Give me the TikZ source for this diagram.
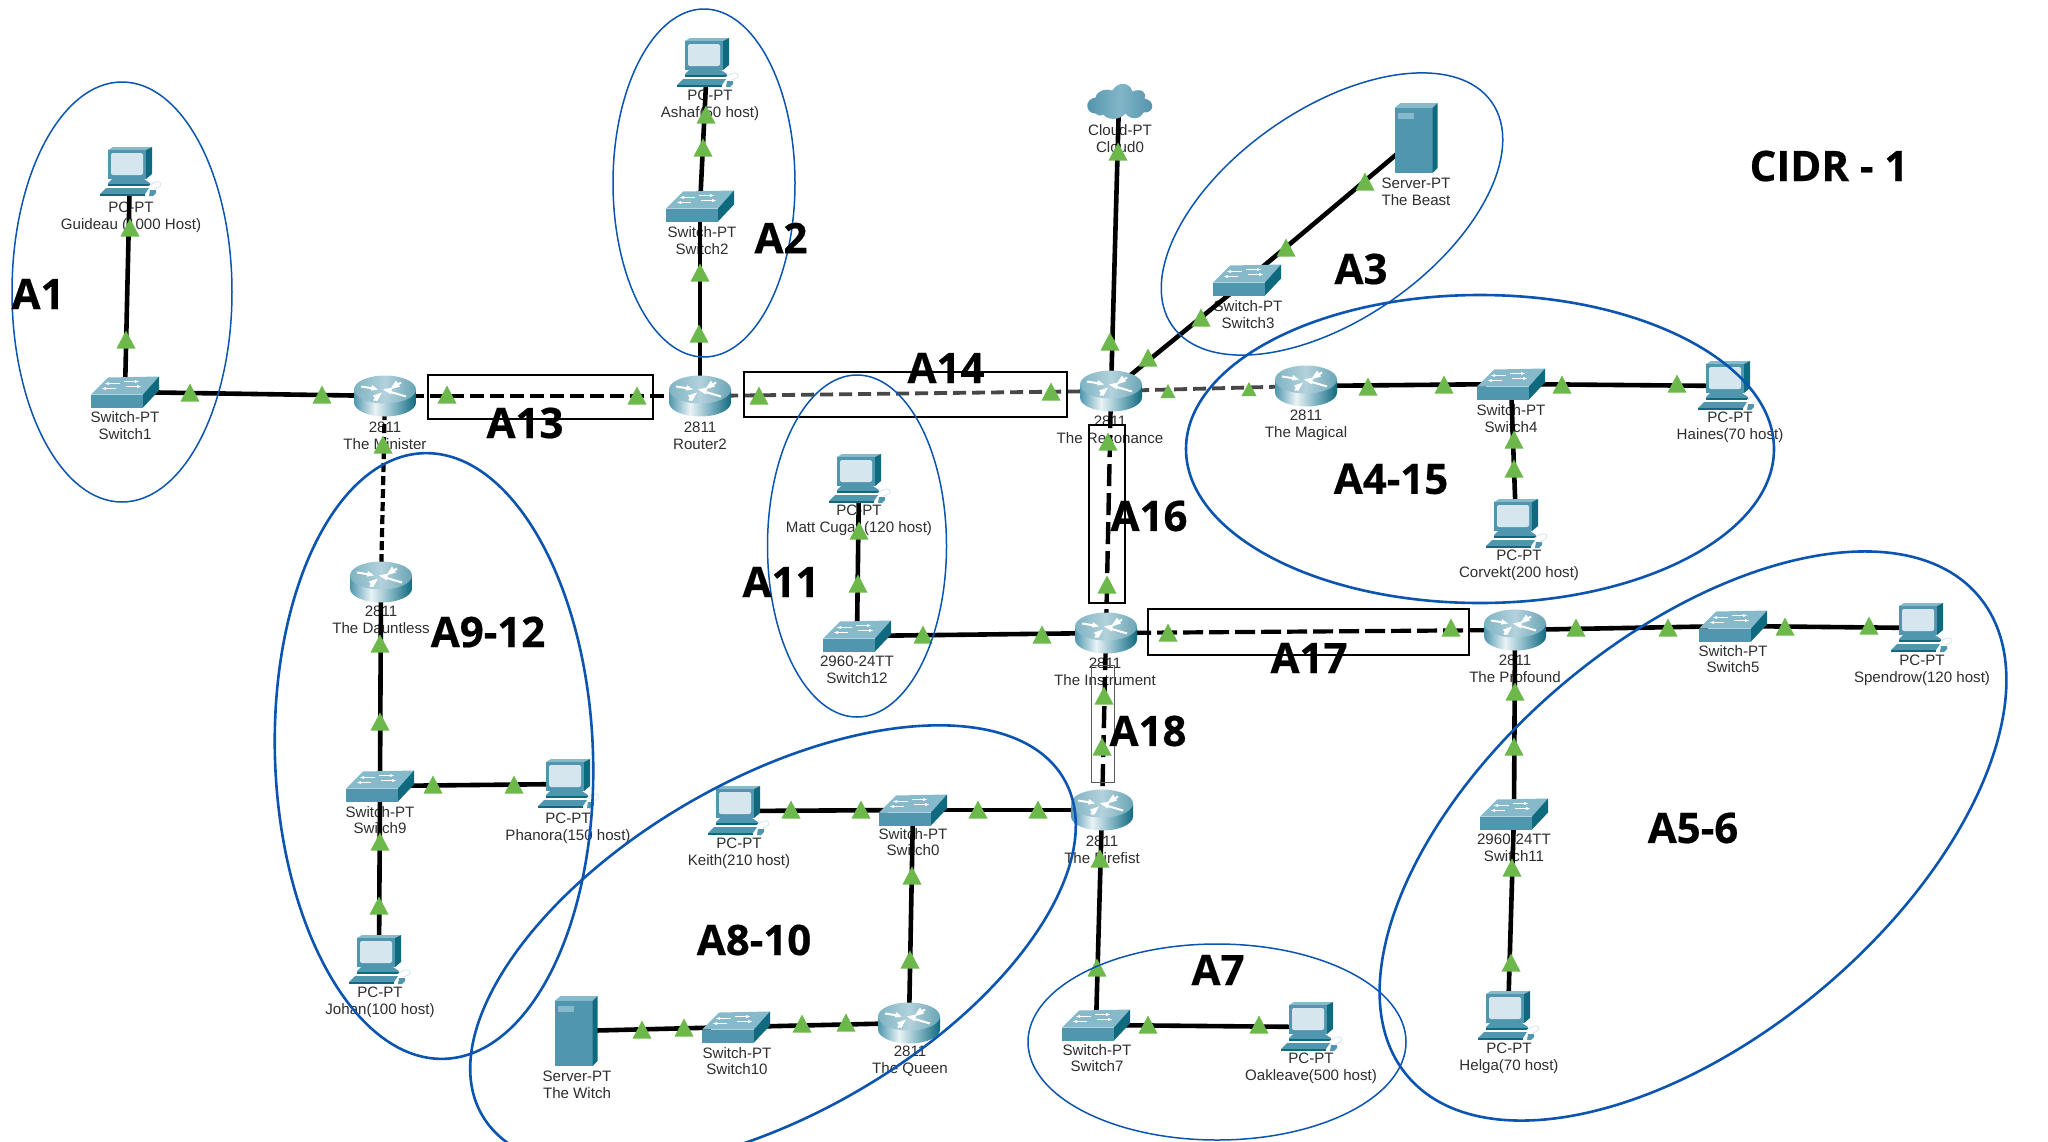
\documentclass[tikz,border=0pt]{standalone}
\usepackage{fontspec}
\setmainfont{Liberation Sans}
\newfontfamily\bigfont[BoldFeatures={FakeBold=0.5}]{Open Sans}
\definecolor{tTop}{HTML}{86BACB}
\definecolor{tFront}{HTML}{5196AF}
\definecolor{tSide}{HTML}{0F6A80}
\definecolor{tLight}{HTML}{D6E6EE}
\definecolor{triGreen}{HTML}{6DB84B}
\definecolor{ringBlue}{HTML}{0B55B0}
\definecolor{rA}{HTML}{4E97AE}
\definecolor{rB}{HTML}{EAF3F5}
\definecolor{rC}{HTML}{7FB3C2}
\definecolor{rD}{HTML}{11697F}
\definecolor{cA}{HTML}{4F90AA}
\definecolor{cB}{HTML}{82B6C8}
\pgfdeclarehorizontalshading{routerbody}{100bp}{color(0bp)=(rA);color(25bp)=(rA);color(42bp)=(rB);color(58bp)=(rC);color(75bp)=(rD);color(100bp)=(rD)}
\pgfdeclarehorizontalshading{routertop}{100bp}{color(0bp)=(rC);color(25bp)=(rC);color(50bp)=(tLight!60!rC);color(75bp)=(rC!80!rD);color(100bp)=(rC)}
\pgfdeclarehorizontalshading{cloudfill}{100bp}{color(0bp)=(cA);color(25bp)=(cA);color(50bp)=(cB);color(75bp)=(cA);color(100bp)=(cA)}
\tikzset{
  lab/.style={align=center,inner sep=0pt,yshift=-0.5pt,text=black!82,font=\fontsize{15.1}{16.6}\selectfont},
  big/.style={inner sep=0pt,font=\bigfont\bfseries\fontsize{42}{42}\selectfont},
  wire/.style={line width=4.6pt,black},
  dashwire/.style={line width=4.2pt,black,dash pattern=on 14pt off 6pt},
  longdash/.style={line width=4.4pt,black,dash pattern=on 22pt off 7pt},
  greydash/.style={line width=3.8pt,black!72,dash pattern=on 13pt off 6pt},
  ring/.style={draw=ringBlue,line width=1.5pt},
  thickring/.style={draw=ringBlue,line width=2.6pt},
  area/.style={draw=black,line width=1.4pt},
  pcnode/.style={inner sep=0pt,minimum width=44pt,minimum height=40pt},
  swnode/.style={inner sep=0pt,minimum width=50pt,minimum height=22pt},
  rtnode/.style={inner sep=0pt,minimum width=50pt,minimum height=30pt},
  svnode/.style={inner sep=0pt,minimum width=36pt,minimum height=60pt},
  clnode/.style={inner sep=0pt,minimum width=36pt,minimum height=20pt},
  pc/.pic={
    \begin{scope}[shift={(-30,-25)}]
      \fill[tTop] (8,3)--(13,0)--(52,0)--(46,3)--cycle;
      \fill[tSide] (46,3)--(52,0)--(52,27)--(46,32)--cycle;
      \fill[tFront] (8,3)--(46,3)--(46,32)--(8,32)--cycle;
      \fill[tLight,rounded corners=2pt] (11,6) rectangle (43,28);
      \fill[tFront] (12,32)--(44,32)--(50,36)--(50,38)--(8,38)--(8,36)--cycle;
      \fill[tSide] (8,37) rectangle (50,39);
      \fill[tFront] (6,41)--(49,41)--(45,47)--(0,47)--cycle;
      \fill[tSide] (0,47) rectangle (45,49);
      \draw[tLight,line width=.8pt] (49,39) .. controls (56,33) and (61,34) .. (61,38) .. controls (60,41) and (56,41) .. (54,42);
      \fill[tFront] (50,43)--(56,43)--(56,46)--(53,49)--(49,49)--cycle;
    \end{scope}},
  sw/.pic={
    \begin{scope}[shift={(-34,-15.5)}]
      \fill[tTop] (0,18)--(17,1)--(68,0)--(52,18)--cycle;
      \fill[tFront] (0,18) rectangle (52,31);
      \fill[tSide] (52,18)--(68,0)--(68,14)--(52,31)--cycle;
      \draw[white,line width=1pt] (16,7)--(29,7) (33,5)--(46,5) (13,12)--(25,12) (35,10)--(48,10);
      \fill[white] (14,7)--(18,5.5)--(18,8.5)--cycle (48,5)--(44,3.5)--(44,6.5)--cycle (11,12)--(15,10.5)--(15,13.5)--cycle (50,10)--(46,8.5)--(46,11.5)--cycle;
    \end{scope}},
  rt/.pic={
    \begin{scope}[shift={(-31,-20.5)}]
      \path[shading=routerbody] (0,14)--(0,27) arc[start angle=180,end angle=0,x radius=31,y radius=14]--(62,14)--cycle;
      \path[shading=routertop] (31,14) circle[x radius=31,y radius=14];
      \draw[white,line width=2pt] (7,11)--(20,13) (47,7)--(39,12) (25,20)--(20,25) (35,16)--(52,21);
      \fill[white] (24,14)--(18,9.5)--(17,15)--cycle (36,14)--(42,5)--(46,11)--cycle (28,17)--(19,20)--(23,26)--cycle (29,14)--(38,12)--(37,19)--cycle;
    \end{scope}},
  srv/.pic={
    \begin{scope}[shift={(-21.5,-35)}]
      \fill[tTop] (0,5)--(6,0)--(43,0)--(38,5)--cycle;
      \fill[tFront] (0,5) rectangle (38,70);
      \fill[tSide] (38,5)--(43,0)--(43,65)--(38,70)--cycle;
      \fill[tTop] (3,10) rectangle (19,16);
    \end{scope}},
  cld/.pic={
    \begin{scope}[shift={(-33.5,-17.5)}]
      \path[shading=cloudfill] (10,30) .. controls (0,30) and (-2,16) .. (10,14) .. controls (12,6) and (22,5) .. (27,7) .. controls (32,-2) and (44,-2) .. (47,8) .. controls (56,4) and (62,10) .. (59,15) .. controls (70,17) and (69,30) .. (58,29) .. controls (54,37) and (44,36) .. (40,30) .. controls (34,37) and (22,37) .. (18,31) .. controls (15,33) and (12,32) .. (10,30) -- cycle;
    \end{scope}}
}
\begin{document}
\begin{tikzpicture}[x=1pt,y=-1pt]
\useasboundingbox (0,0) rectangle (2048,1141);
\clip (0,0) rectangle (2048,1141);
\fill[white] (0,0) rectangle (2048,1141);

% device anchors
\node[pcnode] (guideau) at (130,172) {};
\node[swnode] (sw1) at (125,392) {};
\node[rtnode] (minister) at (385,396) {};
\node[pcnode] (ashaf) at (707,63) {};
\node[swnode] (sw2) at (700,206) {};
\node[rtnode] (router2) at (700,396) {};
\node[clnode] (cloud) at (1119,101) {};
\node[svnode] (beast) at (1416,138) {};
\node[swnode] (sw3) at (1247,280) {};
\node[rtnode] (resonance) at (1111,391) {};
\node[rtnode] (magical) at (1306,386) {};
\node[swnode] (sw4) at (1511,384) {};
\node[pcnode] (haines) at (1728,386) {};
\node[pcnode] (corvekt) at (1516,524) {};
\node[pcnode] (matt) at (859,479) {};
\node[swnode] (sw12) at (857,636) {};
\node[rtnode] (instrument) at (1106,633) {};
\node[rtnode] (profound) at (1515,630) {};
\node[swnode] (sw5) at (1733,626) {};
\node[pcnode] (spendrow) at (1921,628) {};
\node[swnode] (sw11) at (1514,814) {};
\node[pcnode] (helga) at (1508,1016) {};
\node[rtnode] (firefist) at (1102,810) {};
\node[swnode] (sw0) at (913,810) {};
\node[pcnode] (keith) at (738,811) {};
\node[swnode] (sw7) at (1096,1025) {};
\node[pcnode] (oakleave) at (1311,1027) {};
\node[rtnode] (queen) at (909,1023) {};
\node[swnode] (sw10) at (736,1027) {};
\node[svnode] (witch) at (576,1031) {};
\node[rtnode] (dauntless) at (381,582) {};
\node[swnode] (sw9) at (380,786) {};
\node[pcnode] (phanora) at (568,784) {};
\node[pcnode] (johan) at (379,960) {};

% device labels
\node[lab] (lguideau) at (131,216.5) {PC-PT\\Guideau (1000 Host)};
\node[lab] (lsw1) at (125,425) {Switch-PT\\Switch1};
\node[lab] (lminister) at (385,435) {2811\\The Minister};
\node[lab] (lashaf) at (710,104.5) {PC-PT\\Ashaf(50 host)};
\node[lab] (lsw2) at (702,240) {Switch-PT\\Switch2};
\node[lab] (lrouter2) at (700,435) {2811\\Router2};
\node[lab] (lcloud) at (1120,138) {Cloud-PT\\Cloud0};
\node[lab] (lbeast) at (1416,191) {Server-PT\\The Beast};
\node[lab] (lsw3) at (1248,314) {Switch-PT\\Switch3};
\node[lab] (lresonance) at (1110,429) {2811\\The Resonance};
\node[lab] (lmagical) at (1306,425) {2811\\The Magical};
\node[lab] (lsw4) at (1511,418) {Switch-PT\\Switch4};
\node[lab] (lhaines) at (1730,426.5) {PC-PT\\Haines(70 host)};
\node[lab] (lcorvekt) at (1519,564.5) {PC-PT\\Corvekt(200 host)};
\node[lab] (lmatt) at (859,519.5) {PC-PT\\Matt Cugat (120 host)};
\node[lab] (lsw12) at (857,669.5) {2960-24TT\\Switch12};
\node[lab] (linstrument) at (1105,671.5) {2811\\The Instrument};
\node[lab] (lprofound) at (1515,668.5) {2811\\The Profound};
\node[lab] (lsw5) at (1733,658.5) {Switch-PT\\Switch5};
\node[lab] (lspendrow) at (1922,669.5) {PC-PT\\Spendrow(120 host)};
\node[lab] (lsw11) at (1514,847) {2960-24TT\\Switch11};
\node[lab] (lhelga) at (1509,1057.5) {PC-PT\\Helga(70 host)};
\node[lab] (lfirefist) at (1102,849) {2811\\The Firefist};
\node[lab] (lsw0) at (913,841.5) {Switch-PT\\Switch0};
\node[lab] (lkeith) at (739,852.5) {PC-PT\\Keith(210 host)};
\node[lab] (lsw7) at (1097,1057.5) {Switch-PT\\Switch7};
\node[lab] (loakleave) at (1311,1067.5) {PC-PT\\Oakleave(500 host)};
\node[lab] (lqueen) at (910,1060.5) {2811\\The Queen};
\node[lab] (lsw10) at (737,1060.5) {Switch-PT\\Switch10};
\node[lab] (lwitch) at (577,1084) {Server-PT\\The Witch};
\node[lab] (ldauntless) at (381,619.5) {2811\\The Dauntless};
\node[lab] (lsw9) at (380,819.5) {Switch-PT\\Switch9};
\node[lab] (lphanora) at (568,827.5) {PC-PT\\Phanora(150 host)};
\node[lab] (ljohan) at (380,1001.5) {PC-PT\\Johan(100 host)};

% connectors
\draw[wire] (guideau) -- (sw1);
\draw[wire] (sw1) -- (minister);
\draw[dashwire] (minister) -- (router2);
\draw[dashwire,dash pattern=on 9pt off 4pt] (minister) -- (dauntless);
\draw[wire] (dauntless) -- (sw9);
\draw[wire] (sw9) -- (phanora);
\draw[wire] (sw9) -- (johan);
\draw[wire] (ashaf) -- (sw2);
\draw[wire] (sw2) -- (router2);
\draw[greydash] (router2) -- (resonance);
\draw[wire] (cloud) -- (resonance);
\draw[wire] (resonance) -- (sw3);
\draw[wire] (sw3) -- (beast);
\draw[greydash] (resonance) -- (magical);
\draw[wire] (magical) -- (sw4);
\draw[wire] (sw4) -- (haines);
\draw[wire] (sw4) -- (corvekt);
\draw[longdash] (resonance) -- (instrument);
\draw[wire] (matt) -- (sw12);
\draw[wire] (sw12) -- (instrument);
\draw[dashwire,dash pattern=on 20pt off 6pt] (instrument) -- (profound);
\draw[wire] (profound) -- (sw5);
\draw[wire] (sw5) -- (spendrow);
\draw[wire] (profound) -- (sw11);
\draw[wire] (sw11) -- (helga);
\draw[longdash] (instrument) -- (firefist);
\draw[wire] (firefist) -- (sw0);
\draw[wire] (sw0) -- (keith);
\draw[wire] (sw0) -- (queen);
\draw[wire] (queen) -- (sw10);
\draw[wire] (sw10) -- (witch);
\draw[wire] (firefist) -- (sw7);
\draw[wire] (sw7) -- (oakleave);

% device icons
\foreach \n in {guideau,ashaf,haines,corvekt,matt,spendrow,helga,keith,oakleave,phanora,johan} \pic at (\n) {pc};
\foreach \n in {sw1,sw2,sw3,sw4,sw5,sw7,sw9,sw0,sw10,sw11,sw12} \pic at (\n) {sw};
\foreach \n in {minister,router2,resonance,magical,instrument,profound,firefist,queen,dauntless} \pic at (\n) {rt};
\foreach \n in {beast,witch} \pic at (\n) {srv};
\pic at (cloud) {cld};

% link lights
\foreach \x/\y in {130/228,126/340,190/393,322/395,447/395,637/396,383/445,380/644,380/722,433/785,514/785,380/842,379/906,
  706/115,703/148,700/273,699/334,759/396,1051/392,1118/152,1110/342,1148/358,1201/318,1286/248,1365/182,
  1368/387,1444/385,1562/385,1677/384,1514/440,1514/469,1108/442,1107/585,859/531,858/584,923/635,1042/635,
  1168/633,1451/628,1576/628,1668/628,1785/627,1869/626,1515/692,1514/747,1512/868,1511/963,1104/696,1102/747,
  1038/810,978/810,861/810,791/810,912/876,910/960,846/1023,802/1024,684/1028,642/1030,1100/859,1097/968,1148/1025,1259/1025}
  \fill[triGreen] (\x-9.5,\y+8.5) -- (\x+9.5,\y+8.5) -- (\x,\y-9.5) -- cycle;
\foreach \x/\y in {1168/391,1249/389}
  \fill[triGreen] (\x-7.5,\y+7) -- (\x+7.5,\y+7) -- (\x,\y-7) -- cycle;

% area boxes
\draw[area] (428,375) rectangle (653,419);
\draw[area] (744,372) rectangle (1067,417);
\draw[area] (1089,425) rectangle (1125,603);
\draw[area] (1148,609) rectangle (1469,655);
\draw[draw=black!65,line width=.9pt] (1091,665) rectangle (1114,782);

% area rings
\draw[ring] (122,292) circle[x radius=110pt,y radius=210pt];
\draw[ring] (704,183) circle[x radius=91pt,y radius=174pt];
\draw[ring] (1332,214) circle[x radius=195pt,y radius=105pt,rotate=35];
\draw[thickring] (1480,449) circle[x radius=294pt,y radius=154pt];
\draw[thickring] (1693,836) circle[x radius=373pt,y radius=200pt,rotate=40];
\draw[ring] (1217,1042) circle[x radius=189pt,y radius=98pt];
\draw[thickring] (773,947) circle[x radius=336pt,y radius=167pt,rotate=30];
\draw[thickring] (434,756) circle[x radius=159pt,y radius=303pt,rotate=2];
\draw[ring] (857,546) circle[x radius=89.5pt,y radius=171pt];

% area names
\node[big] (a1) at (38,294) {A1};
\node[big] (a2) at (781,238) {A2};
\node[big] (a3) at (1361,269) {A3};
\node[big] (a415) at (1391,479) {A4-15};
\node[big] (a56) at (1693,828) {A5-6};
\node[big] (a7) at (1218,970) {A7};
\node[big] (a810) at (754,940) {A8-10};
\node[big] (a912) at (488,632) {A9-12};
\node[big] (a11) at (781,582) {A11};
\node[big] (a13) at (525,423) {A13};
\node[big] (a14) at (946,368) {A14};
\node[big] (a16) at (1149,516) {A16};
\node[big] (a17) at (1309,658) {A17};
\node[big] (a18) at (1148,731) {A18};
\node[big] (cidr) at (1829,166) {CIDR - 1};
\end{tikzpicture}
\end{document}
